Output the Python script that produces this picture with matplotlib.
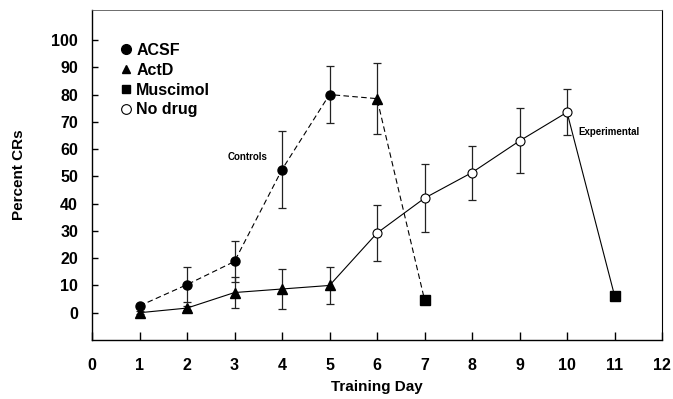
import matplotlib
matplotlib.use("Agg")
import matplotlib.pyplot as plt
from matplotlib.lines import Line2D

plt.rcParams["font.family"] = ["Liberation Sans", "DejaVu Sans"]
plt.rcParams["font.weight"] = "bold"
plt.rcParams["axes.labelweight"] = "bold"

# Controls (dashed): ACSF days 1-5, ActD day 6, Muscimol day 7
acsf_days = [1, 2, 3, 4, 5]
acsf_vals = [2.5, 10.3, 18.8, 52.5, 80.0]
acsf_err = [0.8, 6.3, 7.6, 14.0, 10.4]

ctrl_actd_days = [6]
ctrl_actd_vals = [78.5]
ctrl_actd_err = [13.0]

ctrl_musc_days = [7]
ctrl_musc_vals = [4.8]
ctrl_musc_err = [1.5]

# Experimental (solid): ActD days 1-5, No drug days 6-10, Muscimol day 11
exp_actd_days = [1, 2, 3, 4, 5]
exp_actd_vals = [0.0, 1.7, 7.4, 8.7, 10.0]
exp_actd_err = [0.5, 0.8, 5.6, 7.2, 6.8]

nodrug_days = [6, 7, 8, 9, 10]
nodrug_vals = [29.2, 42.0, 51.4, 63.0, 73.5]
nodrug_err = [10.2, 12.5, 9.9, 11.9, 8.5]

exp_musc_days = [11]
exp_musc_vals = [6.3]
exp_musc_err = [1.0]

legend_labels = ["ACSF", "ActD", "Muscimol", "No drug"]

fig = plt.figure(figsize=(6.73, 3.99), dpi=100)
ax = fig.add_axes([0.1367, 0.1479, 0.847, 0.827])

ebkw = dict(fmt="none", ecolor="#222222", elinewidth=0.9, capsize=3, capthick=0.9, zorder=2)
mkw = dict(linestyle="none", color="black", markersize=6.5, zorder=4)

# connecting lines
ctrl_x = acsf_days + ctrl_actd_days + ctrl_musc_days
ctrl_y = acsf_vals + ctrl_actd_vals + ctrl_musc_vals
exp_x = exp_actd_days + nodrug_days + exp_musc_days
exp_y = exp_actd_vals + nodrug_vals + exp_musc_vals
ax.plot(ctrl_x, ctrl_y, color="black", lw=0.8, ls=(0, (5, 3)), zorder=3)
ax.plot(exp_x, exp_y, color="black", lw=0.8, ls="-", zorder=3)

# error bars
ax.errorbar(acsf_days, acsf_vals, yerr=acsf_err, **ebkw)
ax.errorbar(ctrl_actd_days, ctrl_actd_vals, yerr=ctrl_actd_err, **ebkw)
ax.errorbar(ctrl_musc_days, ctrl_musc_vals, yerr=ctrl_musc_err, **ebkw)
ax.errorbar(exp_actd_days, exp_actd_vals, yerr=exp_actd_err, **ebkw)
ax.errorbar(nodrug_days, nodrug_vals, yerr=nodrug_err, **ebkw)
ax.errorbar(exp_musc_days, exp_musc_vals, yerr=exp_musc_err, **ebkw)

# markers
ax.plot(acsf_days, acsf_vals, marker="o", **mkw)
ax.plot(ctrl_actd_days, ctrl_actd_vals, marker="^", **mkw)
ax.plot(exp_actd_days, exp_actd_vals, marker="^", **mkw)
ax.plot(ctrl_musc_days, ctrl_musc_vals, marker="s", **mkw)
ax.plot(exp_musc_days, exp_musc_vals, marker="s", **mkw)
ax.plot(nodrug_days, nodrug_vals, marker="o", markerfacecolor="white",
        markeredgewidth=0.8, **mkw)

ax.text(3.28, 57, "Controls", fontsize=7, ha="center", va="center")
ax.text(10.23, 66.3, "Experimental", fontsize=7, ha="left", va="center")

handles = [
    Line2D([], [], marker="o", ls="none", color="black", markersize=7),
    Line2D([], [], marker="^", ls="none", color="black", markersize=6),
    Line2D([], [], marker="s", ls="none", color="black", markersize=5.5),
    Line2D([], [], marker="o", ls="none", color="black", markerfacecolor="white",
           markeredgewidth=0.8, markersize=7),
]
ax.legend(handles, legend_labels, loc="upper left", bbox_to_anchor=(0.048, 0.9),
          frameon=False, fontsize=11.5, handlelength=0.8, handletextpad=0.25,
          labelspacing=0.3, borderaxespad=0, borderpad=0)

ax.set_xlim(0, 12)
ax.set_ylim(-10, 111)
ax.set_xticks(range(0, 13))
ax.set_yticks(range(0, 101, 10))
ax.tick_params(axis="x", direction="in", length=6, width=1, pad=13, labelsize=11.5)
ax.tick_params(axis="y", direction="in", length=4, width=1, pad=10, labelsize=11.5)
for s in ax.spines.values():
    s.set_linewidth(1)
ax.spines["top"].set_linewidth(0.6)
ax.spines["top"].set_color("#555555")
ax.spines["right"].set_linewidth(0.8)

ax.set_xlabel("Training Day", fontsize=11, labelpad=5)
ax.set_ylabel("Percent CRs", fontsize=11, labelpad=18)

fig.savefig("out.png", dpi=100)
